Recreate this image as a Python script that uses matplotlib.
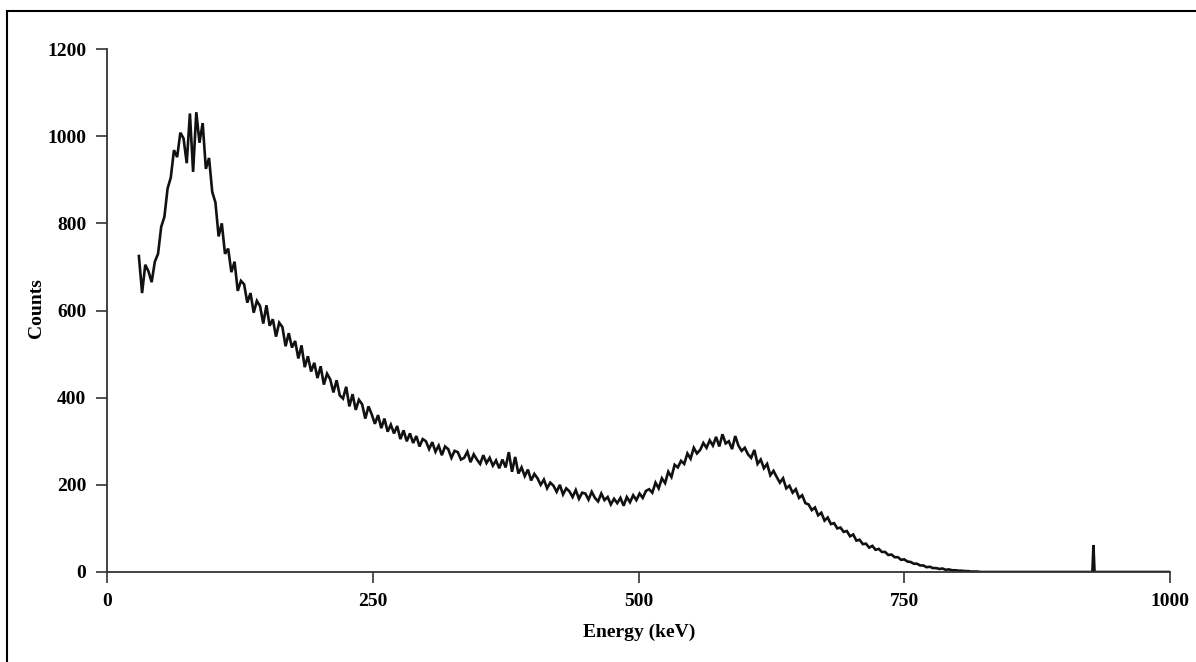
import numpy as np
import matplotlib
matplotlib.use("Agg")
import matplotlib.pyplot as plt
from matplotlib.lines import Line2D

# Spectrum counts, one value every 3 keV starting at 30 keV
energy_start = 30
energy_step = 3
counts = [
    725, 640, 705, 690, 665, 712, 730, 792, 815, 880,
    905, 968, 952, 1008, 995, 938, 1052, 918, 1055, 985,
    1030, 925, 950, 872, 848, 770, 800, 730, 742, 688,
    712, 645, 668, 660, 618, 640, 595, 622, 610, 570,
    612, 565, 580, 540, 572, 562, 518, 548, 515, 530,
    490, 520, 470, 495, 460, 480, 445, 472, 430, 455,
    442, 412, 440, 405, 398, 425, 380, 408, 372, 395,
    385, 352, 380, 362, 340, 360, 330, 352, 322, 338,
    318, 335, 305, 325, 300, 318, 296, 312, 288, 305,
    300, 282, 298, 276, 290, 268, 288, 282, 262, 278,
    275, 258, 262, 276, 252, 270, 258, 248, 268, 250,
    262, 244, 256, 238, 258, 240, 275, 230, 264, 226,
    240, 220, 235, 210, 225, 215, 200, 212, 192, 205,
    198, 184, 200, 178, 192, 185, 172, 188, 168, 182,
    180, 166, 184, 170, 162, 180, 165, 172, 155, 168,
    158, 170, 152, 172, 160, 176, 165, 180, 170, 186,
    190, 182, 205, 192, 215, 204, 230, 218, 246, 240,
    255, 248, 272, 260, 285, 272, 280, 296, 285, 302,
    290, 310, 288, 316, 295, 300, 282, 312, 290, 278,
    285, 270, 262, 280, 248, 258, 238, 248, 222, 232,
    218, 205, 215, 192, 198, 182, 190, 170, 176, 158,
    155, 142, 148, 130, 136, 118, 125, 110, 112, 100,
    102, 92, 94, 82, 86, 72, 74, 64, 65, 56,
    60, 51, 53, 46, 46, 39, 40, 34, 34, 28,
    29, 24, 23, 19, 19, 15, 15, 11, 12, 9,
    9, 7, 8, 5, 6, 4, 4, 3, 3, 2,
    2, 1, 1, 1, 0, 0, 0, 0, 0, 0,
]
# High-energy tail: flat zero with a single narrow spike
tail_energy = [850, 926, 927, 928, 929, 930, 1000]
tail_counts = [0, 0, 0, 62, 0, 0, 0]

x_ticks = [0, 250, 500, 750, 1000]
y_ticks = [0, 200, 400, 600, 800, 1000, 1200]
x_label = "Energy (keV)"
y_label = "Counts"

energy = energy_start + energy_step * np.arange(len(counts))
all_energy = np.concatenate([energy, tail_energy])
all_counts = np.concatenate([counts, tail_counts])

fig = plt.figure(figsize=(11.96, 6.62), dpi=100)
ax = fig.add_axes([107 / 1196, 1 - 572 / 662, (1170 - 107) / 1196, (572 - 49) / 662])

ax.plot(all_energy, all_counts, color="#111111", linewidth=1.9, solid_joinstyle="miter")

ax.set_xlim(0, 1000)
ax.set_ylim(0, 1200)
ax.set_xticks(x_ticks)
ax.set_yticks(y_ticks)

for s in ["top", "right"]:
    ax.spines[s].set_visible(False)
for s in ["left", "bottom"]:
    ax.spines[s].set_color("#333333")
    ax.spines[s].set_linewidth(1.3)

fs = 14
font = dict(family="Liberation Serif", weight="bold", size=fs)
ax.tick_params(axis="both", direction="out", length=8, width=1.2, color="#333333", pad=7)
for lab in ax.get_xticklabels() + ax.get_yticklabels():
    lab.set_fontfamily("Liberation Serif")
    lab.set_fontweight("bold")
    lab.set_fontsize(fs)

fig.text(639 / 1196, 1 - 632 / 662, x_label, ha="center", va="center", **font)
fig.text(36 / 1196, 1 - 308 / 662, y_label, ha="center", va="center", rotation=90, **font)

# outer frame: top and left lines of the figure
fig.add_artist(Line2D([7 / 1196, 1.0], [1 - 11 / 662, 1 - 11 / 662], transform=fig.transFigure,
                      color="black", linewidth=1.5))
fig.add_artist(Line2D([7 / 1196, 7 / 1196], [0, 1 - 11 / 662], transform=fig.transFigure,
                      color="black", linewidth=1.5))

fig.savefig("out.png", dpi=100)
